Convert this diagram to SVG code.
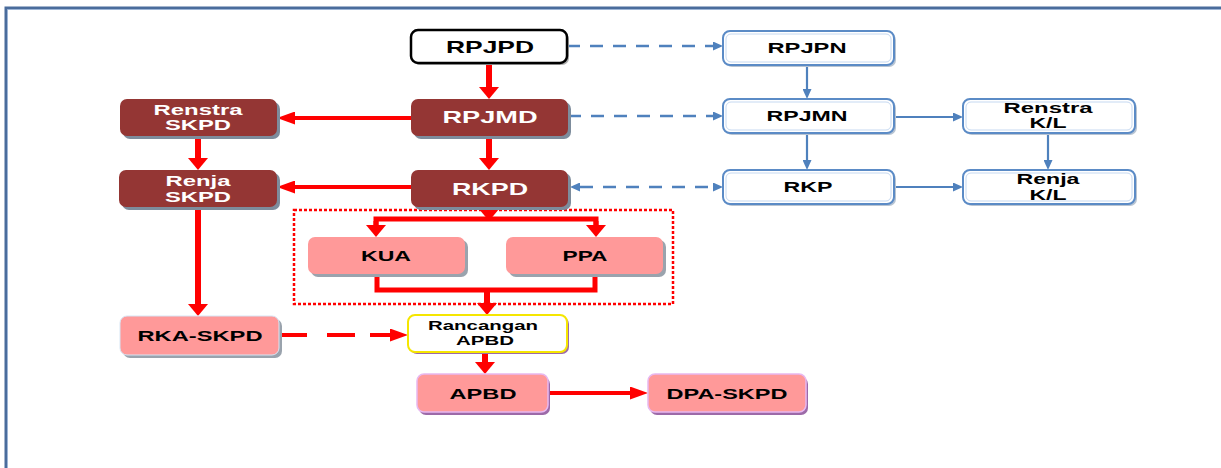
<svg xmlns="http://www.w3.org/2000/svg" width="1221" height="468" viewBox="0 0 1221 468">
<defs>
<marker id="rv" markerUnits="userSpaceOnUse" viewBox="0 0 12 20" refX="0" refY="10" markerWidth="12" markerHeight="20" orient="auto"><path d="M0,0 L12,10 L0,20 z" fill="#ff0000"/></marker>
<marker id="rh" markerUnits="userSpaceOnUse" viewBox="0 0 18 13" refX="0" refY="6.5" markerWidth="18" markerHeight="13" orient="auto"><path d="M0,0 L18,6.5 L0,13 z" fill="#ff0000"/></marker>
<marker id="bl" markerUnits="userSpaceOnUse" viewBox="0 0 10 9" refX="0" refY="4.5" markerWidth="10" markerHeight="9" orient="auto"><path d="M0,0 L10,4.5 L0,9 z" fill="#4f81bd"/></marker>
<marker id="blb" markerUnits="userSpaceOnUse" viewBox="0 0 10 9" refX="10" refY="4.5" markerWidth="10" markerHeight="9" orient="auto"><path d="M10,0 L0,4.5 L10,9 z" fill="#4f81bd"/></marker>
</defs>
<style>
text{font-family:"Liberation Sans",Arial,sans-serif;font-weight:bold;text-anchor:middle}
.w{fill:#ffffff}.k{fill:#000000}
.dr{fill:#943634}.drs{fill:#7d8c9c}
.pk{fill:#ff9999}.gs{fill:#9aa3ad}.ps{fill:#9c6aa8}
.bb{fill:#ffffff;stroke:#5b8bc6;stroke-width:2}.bi{fill:none;stroke:#c6d9f1;stroke-width:1}.bs{fill:#b8c4d2}
.r{stroke:#ff0000;fill:none}
.b{stroke:#4f81bd;fill:none;stroke-width:2.2}
.bd{stroke:#4f81bd;fill:none;stroke-width:2.4;stroke-dasharray:13 10}
</style>
<path d="M6,468 V8 H1221" fill="none" stroke="#4a6c9c" stroke-width="3"/>
<path d="M7.5,468 V9.5 H1221" fill="none" stroke="#9db5d6" stroke-width="1"/>

<rect x="294" y="210" width="379" height="94" fill="none" stroke="#ff0000" stroke-width="2.5" stroke-dasharray="3 2"/>

<g id="connectors">
<path class="r" stroke-width="6" d="M489,63 V87" marker-end="url(#rv)"/>
<path class="r" stroke-width="6" d="M489,136 V158" marker-end="url(#rv)"/>
<path class="r" stroke-width="4" d="M411,118 H295" marker-end="url(#rh)"/>
<path class="r" stroke-width="4" d="M411,187 H295" marker-end="url(#rh)"/>
<path class="r" stroke-width="6" d="M198,136 V158" marker-end="url(#rv)"/>
<path class="r" stroke-width="6" d="M198,207 V304" marker-end="url(#rv)"/>
<path class="r" stroke-width="6" d="M489,207 V209" marker-end="url(#rv)"/>
<path class="r" stroke-width="5" d="M376,225 V219 H596 V225"/>
<path class="r" stroke-width="5" d="M376,221 V225" marker-end="url(#rv)"/>
<path class="r" stroke-width="5" d="M596,221 V225" marker-end="url(#rv)"/>
<path class="r" stroke-width="5" d="M377,274 V290 H595 V274"/>
<path class="r" stroke-width="6" d="M487,290 V303" marker-end="url(#rv)"/>
<path class="r" stroke-width="4" stroke-dasharray="28 20" d="M279,335 H390"/>
<path class="r" stroke-width="4" d="M370,335 H390" marker-end="url(#rh)"/>
<path class="r" stroke-width="6" d="M485,352 V362" marker-end="url(#rv)"/>
<path class="r" stroke-width="4" d="M548,393 H630" marker-end="url(#rh)"/>

<path class="bd" d="M567,46 H713" marker-end="url(#bl)"/>
<path class="bd" d="M568,116 H713" marker-end="url(#bl)"/>
<path class="bd" d="M580,187 H713" marker-start="url(#blb)" marker-end="url(#bl)"/>
<path class="b" stroke-width="3" d="M807,65 V89" marker-end="url(#bl)"/>
<path class="b" stroke-width="3" d="M807,134 V160" marker-end="url(#bl)"/>
<path class="b" stroke-width="3" d="M1048,134 V160" marker-end="url(#bl)"/>
<path class="b" d="M894,117 H953" marker-end="url(#bl)"/>
<path class="b" d="M894,187 H953" marker-end="url(#bl)"/>
</g>

<g id="RPJPD">
<rect x="413" y="32" width="156" height="33" rx="7" fill="#b0b0b0"/>
<rect x="411" y="30" width="156" height="33" rx="7" fill="#ffffff" stroke="#000000" stroke-width="2.5"/>
<text class="k" x="490" y="53" font-size="17" textLength="88" lengthAdjust="spacingAndGlyphs">RPJPD</text>
</g>
<g id="RPJMD">
<rect class="drs" x="414" y="102" width="157" height="37" rx="7"/>
<rect class="dr" x="411" y="99" width="157" height="37" rx="7"/>
<text class="w" x="490" y="123" font-size="17" textLength="95" lengthAdjust="spacingAndGlyphs">RPJMD</text>
</g>
<g id="RKPD">
<rect class="drs" x="414" y="173" width="157" height="37" rx="7"/>
<rect class="dr" x="411" y="170" width="157" height="37" rx="7"/>
<text class="w" x="490" y="195" font-size="17" textLength="76" lengthAdjust="spacingAndGlyphs">RKPD</text>
</g>
<g id="RenstraSKPD">
<rect class="drs" x="123" y="102" width="157" height="37" rx="7"/>
<rect class="dr" x="120" y="99" width="157" height="37" rx="7"/>
<text class="w" x="198" y="115" font-size="15" textLength="89" lengthAdjust="spacingAndGlyphs">Renstra</text>
<text class="w" x="198" y="130" font-size="15" textLength="66" lengthAdjust="spacingAndGlyphs">SKPD</text>
</g>
<g id="RenjaSKPD">
<rect class="drs" x="122" y="173" width="158" height="37" rx="7"/>
<rect class="dr" x="119" y="170" width="158" height="37" rx="7"/>
<text class="w" x="198" y="186" font-size="15" textLength="65" lengthAdjust="spacingAndGlyphs">Renja</text>
<text class="w" x="198" y="202" font-size="15" textLength="66" lengthAdjust="spacingAndGlyphs">SKPD</text>
</g>
<g id="KUA">
<rect class="gs" x="311" y="240" width="157" height="37" rx="7"/>
<rect class="pk" x="308" y="237" width="157" height="37" rx="7"/>
<text class="k" x="386" y="261" font-size="15" textLength="50" lengthAdjust="spacingAndGlyphs">KUA</text>
</g>
<g id="PPA">
<rect class="gs" x="509" y="240" width="157" height="37" rx="7"/>
<rect class="pk" x="506" y="237" width="157" height="37" rx="7"/>
<text class="k" x="585" y="261" font-size="15" textLength="45" lengthAdjust="spacingAndGlyphs">PPA</text>
</g>
<g id="RKA-SKPD">
<rect class="gs" x="123" y="319" width="159" height="39" rx="7"/>
<rect class="pk" x="120" y="316" width="159" height="39" rx="7" stroke="#d6e6f5" stroke-width="1"/>
<text class="k" x="200" y="341" font-size="15" textLength="125" lengthAdjust="spacingAndGlyphs">RKA-SKPD</text>
</g>
<g id="RancanganAPBD">
<rect class="ps" x="410" y="317" width="159" height="37" rx="7"/>
<rect x="408" y="315" width="159" height="37" rx="7" fill="#ffffff" stroke="#f5e600" stroke-width="2"/>
<text class="k" x="483" y="330" font-size="13" textLength="110" lengthAdjust="spacingAndGlyphs">Rancangan</text>
<text class="k" x="485" y="345" font-size="13" textLength="58" lengthAdjust="spacingAndGlyphs">APBD</text>
</g>
<g id="APBD">
<rect class="ps" x="419" y="377" width="131" height="38" rx="7"/>
<rect class="pk" x="417" y="374" width="131" height="38" rx="7" stroke="#e8b8f0" stroke-width="1.5"/>
<text class="k" x="483" y="399" font-size="15" textLength="67" lengthAdjust="spacingAndGlyphs">APBD</text>
</g>
<g id="DPA-SKPD">
<rect class="ps" x="650" y="377" width="158" height="38" rx="7"/>
<rect class="pk" x="648" y="374" width="158" height="38" rx="7" stroke="#e8b8f0" stroke-width="1.5"/>
<text class="k" x="727" y="399" font-size="15" textLength="121" lengthAdjust="spacingAndGlyphs">DPA-SKPD</text>
</g>
<g id="RPJPN">
<rect class="bs" x="725" y="33" width="171" height="34" rx="7"/>
<rect class="bb" x="723" y="31" width="171" height="34" rx="7"/>
<rect class="bi" x="726" y="34" width="165" height="28" rx="5"/>
<text class="k" x="807" y="53" font-size="14.5" textLength="79" lengthAdjust="spacingAndGlyphs">RPJPN</text>
</g>
<g id="RPJMN">
<rect class="bs" x="725" y="101" width="171" height="34" rx="7"/>
<rect class="bb" x="723" y="99" width="171" height="34" rx="7"/>
<rect class="bi" x="726" y="102" width="165" height="28" rx="5"/>
<text class="k" x="807" y="121" font-size="14.5" textLength="81" lengthAdjust="spacingAndGlyphs">RPJMN</text>
</g>
<g id="RKP">
<rect class="bs" x="725" y="172" width="171" height="34" rx="7"/>
<rect class="bb" x="723" y="170" width="171" height="34" rx="7"/>
<rect class="bi" x="726" y="173" width="165" height="28" rx="5"/>
<text class="k" x="808" y="192" font-size="14.5" textLength="49" lengthAdjust="spacingAndGlyphs">RKP</text>
</g>
<g id="RenstraKL">
<rect class="bs" x="965" y="101" width="172" height="34" rx="7"/>
<rect class="bb" x="963" y="99" width="172" height="34" rx="7"/>
<rect class="bi" x="966" y="102" width="166" height="28" rx="5"/>
<text class="k" x="1048" y="113" font-size="14.5" textLength="89" lengthAdjust="spacingAndGlyphs">Renstra</text>
<text class="k" x="1048" y="128" font-size="14.5" textLength="37" lengthAdjust="spacingAndGlyphs">K/L</text>
</g>
<g id="RenjaKL">
<rect class="bs" x="965" y="172" width="172" height="34" rx="7"/>
<rect class="bb" x="963" y="170" width="172" height="34" rx="7"/>
<rect class="bi" x="966" y="173" width="166" height="28" rx="5"/>
<text class="k" x="1048" y="184" font-size="14.5" textLength="63" lengthAdjust="spacingAndGlyphs">Renja</text>
<text class="k" x="1048" y="200" font-size="14.5" textLength="37" lengthAdjust="spacingAndGlyphs">K/L</text>
</g>
</svg>
